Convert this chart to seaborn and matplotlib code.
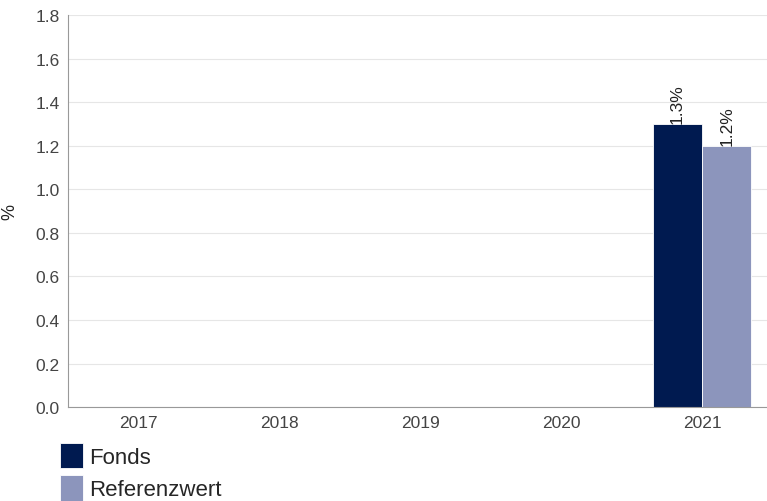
import numpy as np
import pandas as pd
import matplotlib.pyplot as plt
import seaborn as sns

years = ['2017', '2018', '2019', '2020', '2021']
fonds = [np.nan, np.nan, np.nan, np.nan, 1.3]
referenz = [np.nan, np.nan, np.nan, np.nan, 1.2]
series = ['Fonds', 'Referenzwert']
colors = ['#001a50', '#8c95bc']

df = pd.DataFrame({'Jahr': years, 'Fonds': fonds, 'Referenzwert': referenz})
df_long = df.melt(id_vars='Jahr', value_vars=series, var_name='Serie', value_name='Wert')

sns.set_style('white')
plt.rcParams['font.family'] = ['Liberation Sans', 'DejaVu Sans']

fig = plt.figure(figsize=(7.67, 5.02), dpi=100)
ax = fig.add_axes([0.0887, 0.187, 0.9113, 0.781])

sns.barplot(data=df_long, x='Jahr', y='Wert', hue='Serie', hue_order=series,
            order=years, palette=colors, saturation=1, width=0.7, ax=ax,
            edgecolor='white', linewidth=0.6, legend=True)

for cont in ax.containers:
    for bar in cont:
        h = bar.get_height()
        if np.isnan(h):
            continue
        ax.text(bar.get_x() + bar.get_width() / 2, h + 0.005, f'{h:.1f}%',
                rotation=90, ha='center', va='bottom', fontsize=12.5, color='#222222')

ax.set_ylim(0, 1.8)
ax.set_yticks(np.arange(0, 1.81, 0.2))
ax.set_yticklabels([f'{v:.1f}' for v in np.arange(0, 1.81, 0.2)])
ax.set_xlim(-0.5, 4.46)
ax.yaxis.grid(True, color='#e6e6e6', linewidth=0.8)
ax.set_axisbelow(True)
ax.set_xlabel('')
ax.set_ylabel('%', fontsize=13, color='#222222', labelpad=12)
ax.tick_params(axis='both', length=0, labelsize=12.5, colors='#444444', pad=6)
for s in ['top', 'right']:
    ax.spines[s].set_visible(False)
for s in ['left', 'bottom']:
    ax.spines[s].set_color('#999999')
    ax.spines[s].set_linewidth(0.8)

handles, labels = ax.get_legend_handles_labels()
ax.get_legend().remove()
fig.legend(handles, labels, loc='upper left', bbox_to_anchor=(0.078, 0.116),
           frameon=False, fontsize=16, handlelength=1.05, handleheight=1.4,
           handletextpad=0.25, labelspacing=0.3, borderaxespad=0, borderpad=0)

plt.savefig('out.png', dpi=100)
